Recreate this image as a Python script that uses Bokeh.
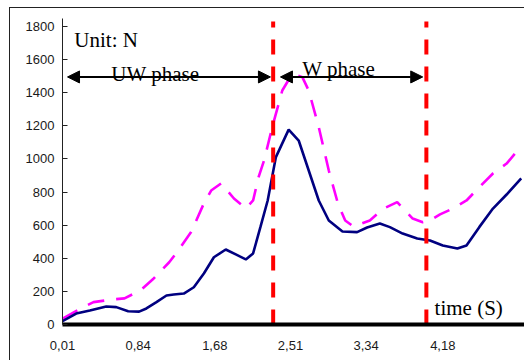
from bokeh.plotting import figure
from bokeh.models import Range1d, FixedTicker, Arrow, NormalHead, Label
from bokeh.embed import file_html
from bokeh.resources import INLINE

# ---- data ----
uw_time = [0.01, 0.16, 0.31, 0.49, 0.60, 0.73, 0.85, 0.93, 1.04, 1.15, 1.23, 1.34, 1.45,
           1.56, 1.67, 1.80, 1.91, 2.02, 2.10, 2.18, 2.26, 2.35, 2.49, 2.60, 2.71, 2.82,
           2.93, 3.08, 3.24, 3.35, 3.49, 3.60, 3.74, 3.90, 4.04, 4.18, 4.34, 4.44, 4.58,
           4.73, 4.88, 5.04]
uw_force = [20, 66, 85, 109, 105, 80, 78, 97, 135, 175, 181, 187, 225,
            308, 406, 453, 423, 393, 429, 588, 749, 1011, 1177, 1111, 930, 749,
            628, 562, 558, 586, 610, 588, 549, 519, 507, 477, 459, 477, 588,
            700, 785, 882]

w_time = [0.01, 0.22, 0.35, 0.55, 0.69, 0.87, 1.01, 1.18, 1.28, 1.42, 1.56, 1.64, 1.75,
          1.89, 2.02, 2.10, 2.16, 2.22, 2.31, 2.42, 2.53, 2.64, 2.71, 2.82, 2.93, 3.03,
          3.11, 3.20, 3.38, 3.53, 3.68, 3.85, 3.96, 4.04, 4.15, 4.29, 4.44, 4.58, 4.73,
          4.88, 5.00]
w_force = [35, 100, 135, 151, 158, 208, 278, 376, 447, 558, 731, 809, 852,
           761, 701, 749, 890, 990, 1192, 1413, 1515, 1494, 1413, 1192, 930, 731,
           628, 592, 628, 700, 739, 640, 618, 628, 665, 700, 749, 829, 912,
           972, 1051]

phase_bounds = [2.32, 4.00]
x_ticks = [0.01, 0.84, 1.68, 2.51, 3.34, 4.18]
x_tick_labels = ["0,01", "0,84", "1,68", "2,51", "3,34", "4,18"]
y_ticks = [0, 200, 400, 600, 800, 1000, 1200, 1400, 1600, 1800]

p = figure(width=515, height=353, output_backend="svg", toolbar_location=None,
           x_range=Range1d(0.01, 5.087), y_range=Range1d(0, 1848),
           min_border_left=52, min_border_right=0, min_border_top=10, min_border_bottom=37)
p.stylesheets = [":host { margin-left: 9px; margin-top: 7px; "
                 "border-left: 1px solid #222; border-top: 1px solid #222; }"]
p.outline_line_color = None
p.background_fill_color = "white"
p.xgrid.visible = False
p.ygrid.visible = False

# x axis
p.xaxis.ticker = FixedTicker(ticks=x_ticks)
p.xaxis.major_label_overrides = {t: l for t, l in zip(x_ticks, x_tick_labels)}
p.xaxis.axis_line_width = 4
p.xaxis.axis_line_color = "black"
p.xaxis.major_tick_line_color = None
p.xaxis.minor_tick_line_color = None
p.xaxis.major_label_standoff = 10
p.xaxis.major_label_text_font = "Liberation Sans"
p.xaxis.major_label_text_font_size = "13px"
p.xaxis.major_label_text_color = "#1a1a1a"

# y axis
p.yaxis.ticker = FixedTicker(ticks=y_ticks)
p.yaxis.axis_line_color = "#222"
p.yaxis.axis_line_width = 1
p.yaxis.major_tick_in = 5
p.yaxis.major_tick_out = 0
p.yaxis.major_tick_line_color = "#222"
p.yaxis.minor_tick_line_color = None
p.yaxis.major_label_standoff = 8
p.yaxis.major_label_text_font = "Liberation Sans"
p.yaxis.major_label_text_font_size = "13px"
p.yaxis.major_label_text_color = "#1a1a1a"

# curves
p.line(w_time, w_force, line_color="#FF00FF", line_width=2.6, line_dash="17 12")
p.line(uw_time, uw_force, line_color="#000080", line_width=2.6)

# phase boundaries
p.segment(x0=phase_bounds, y0=[0, 0], x1=phase_bounds, y1=[1830, 1830],
          line_color="#FF0000", line_width=4, line_dash="15 12")

# arrows
for xs, xe in [(0.065, 2.29), (2.40, 3.96)]:
    p.add_layout(Arrow(x_start=xs, y_start=1495, x_end=xe, y_end=1495,
                       line_color="black", line_width=2,
                       start=NormalHead(size=12, fill_color="black", line_color="black"),
                       end=NormalHead(size=12, fill_color="black", line_color="black")))

serif = "Liberation Serif"
for txt, x, y in [("Unit: N", 0.14, 1721), ("UW phase", 0.545, 1515),
                  ("W phase", 2.64, 1546), ("time (S)", 4.09, 97)]:
    p.add_layout(Label(x=x, y=y, text=txt, text_font=serif, text_font_size="21px",
                       text_color="black", text_baseline="alphabetic", text_align="left"))

open("out.html", "w").write(file_html(p, INLINE))
